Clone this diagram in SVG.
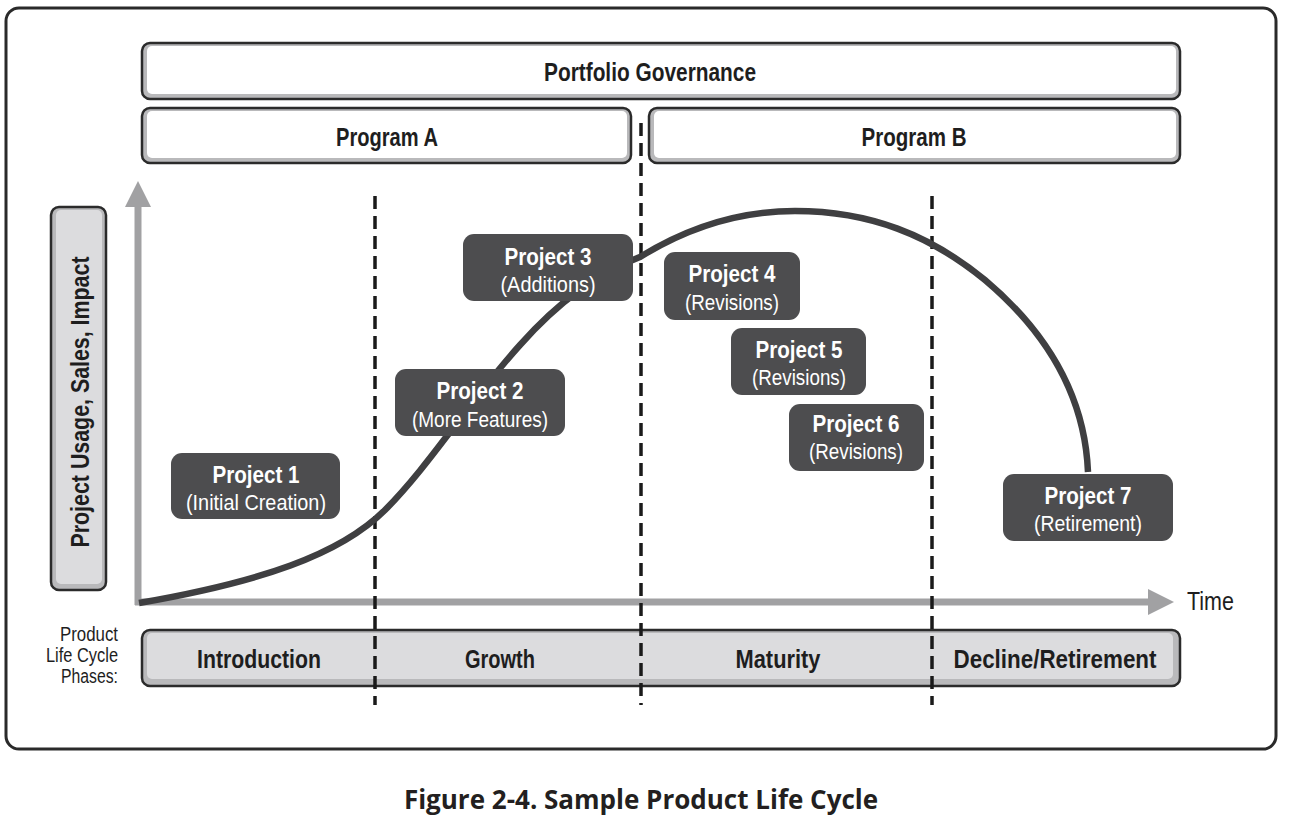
<svg xmlns="http://www.w3.org/2000/svg" width="1289" height="817" viewBox="0 0 1289 817">
<defs>
<style>
.hdr{font-family:"Liberation Sans",Arial,sans-serif;font-weight:bold;font-size:25px;fill:#1e1e1e;text-anchor:middle;dominant-baseline:central}
.pt{font-family:"Liberation Sans",Arial,sans-serif;font-weight:bold;font-size:24px;fill:#ffffff;text-anchor:middle;dominant-baseline:central}
.ps{font-family:"Liberation Sans",Arial,sans-serif;font-size:22px;fill:#ffffff;text-anchor:middle;dominant-baseline:central}
.lbl{font-family:"Liberation Sans",Arial,sans-serif;font-size:20px;fill:#1e1e1e;dominant-baseline:central}
.outer{fill:#b9b9bb;stroke:#2b2b2b;stroke-width:2.5}
.innerW{fill:#ffffff}
.innerG{fill:#dcdcde}
.proj{fill:#4d4d4f}
.dash{stroke:#1a1a1a;stroke-width:3.5;stroke-dasharray:13,7;fill:none}
.axis{stroke:#a1a1a3;stroke-width:7;fill:none}
</style>
</defs>
<rect x="0" y="0" width="1289" height="817" fill="#ffffff"/>
<rect id="frame" x="6" y="8" width="1270" height="741" rx="13" fill="#ffffff" stroke="#2a2a2a" stroke-width="3"/>

<g id="portfolio">
<rect class="outer" x="142" y="43" width="1038" height="56" rx="8"/>
<rect class="innerW" x="147" y="46" width="1029" height="48" rx="5"/>
<text class="hdr" x="650" y="72" textLength="212" lengthAdjust="spacingAndGlyphs">Portfolio Governance</text>
</g>
<g id="programA">
<rect class="outer" x="142" y="108" width="489" height="55" rx="8"/>
<rect class="innerW" x="147" y="111" width="480" height="47" rx="5"/>
<text class="hdr" x="387" y="137" textLength="102" lengthAdjust="spacingAndGlyphs">Program A</text>
</g>
<g id="programB">
<rect class="outer" x="649" y="108" width="531" height="55" rx="8"/>
<rect class="innerW" x="654" y="111" width="522" height="47" rx="5"/>
<text class="hdr" x="914" y="137" textLength="105" lengthAdjust="spacingAndGlyphs">Program B</text>
</g>

<g id="yLabel">
<rect class="outer" x="51" y="207" width="55" height="383" rx="8"/>
<rect class="innerG" x="56" y="210" width="46" height="374" rx="5"/>
<text class="hdr" x="0" y="0" transform="translate(80,402) rotate(-90)" textLength="291" lengthAdjust="spacingAndGlyphs">Project Usage, Sales, Impact</text>
</g>

<g id="phases">
<rect class="outer" x="142" y="630" width="1038" height="56" rx="8"/>
<rect class="innerG" x="147" y="633" width="1026" height="46" rx="5"/>
<text class="hdr" x="259" y="659" textLength="124" lengthAdjust="spacingAndGlyphs">Introduction</text>
<text class="hdr" x="500" y="659" textLength="70" lengthAdjust="spacingAndGlyphs">Growth</text>
<text class="hdr" x="778" y="659" textLength="85" lengthAdjust="spacingAndGlyphs">Maturity</text>
<text class="hdr" x="1055" y="659" textLength="203" lengthAdjust="spacingAndGlyphs">Decline/Retirement</text>
</g>
<g id="phaseLabel">
<text class="lbl" x="118" y="634" text-anchor="end" textLength="58" lengthAdjust="spacingAndGlyphs">Product</text>
<text class="lbl" x="118" y="655" text-anchor="end" textLength="72" lengthAdjust="spacingAndGlyphs">Life Cycle</text>
<text class="lbl" x="118" y="676" text-anchor="end" textLength="57" lengthAdjust="spacingAndGlyphs">Phases:</text>
</g>

<g id="axes">
<line class="axis" x1="138" y1="605" x2="138" y2="204"/>
<polygon points="138,181 125,207 151,207" fill="#a1a1a3"/>
<line class="axis" x1="135" y1="602" x2="1150" y2="602"/>
<polygon points="1174,602 1148,589 1148,615" fill="#a1a1a3"/>
<text class="lbl" x="1187" y="601" style="font-size:25px" textLength="47" lengthAdjust="spacingAndGlyphs">Time</text>
</g>

<g id="dividers">
<line class="dash" x1="375" y1="196" x2="375" y2="705"/>
<line class="dash" x1="641" y1="123" x2="641" y2="705"/>
<line class="dash" x1="932" y1="196" x2="932" y2="705"/>
</g>

<g id="connectors">
<path d="M139,603 C260,582 340,555 385,510 C430,465 470,400 520,345 C560,300 600,272 640,257 C690,226 740,211 795,211 C870,211 930,235 985,280 C1050,335 1085,400 1088,472" fill="none" stroke="#3f3f41" stroke-width="6.5"/>
</g>

<g id="project1">
<rect class="proj" x="171" y="453" width="169" height="66" rx="11"/>
<text class="pt" x="256" y="474" textLength="87" lengthAdjust="spacingAndGlyphs">Project 1</text>
<text class="ps" x="256" y="502" textLength="140" lengthAdjust="spacingAndGlyphs">(Initial Creation)</text>
</g>
<g id="project2">
<rect class="proj" x="395" y="369" width="170" height="67" rx="11"/>
<text class="pt" x="480" y="390" textLength="87" lengthAdjust="spacingAndGlyphs">Project 2</text>
<text class="ps" x="480" y="419" textLength="136" lengthAdjust="spacingAndGlyphs">(More Features)</text>
</g>
<g id="project3">
<rect class="proj" x="463" y="234" width="170" height="67" rx="11"/>
<text class="pt" x="548" y="256" textLength="87" lengthAdjust="spacingAndGlyphs">Project 3</text>
<text class="ps" x="548" y="284" textLength="95" lengthAdjust="spacingAndGlyphs">(Additions)</text>
</g>
<g id="project4">
<rect class="proj" x="664" y="252" width="136" height="68" rx="11"/>
<text class="pt" x="732" y="273" textLength="87" lengthAdjust="spacingAndGlyphs">Project 4</text>
<text class="ps" x="732" y="302" textLength="94" lengthAdjust="spacingAndGlyphs">(Revisions)</text>
</g>
<g id="project5">
<rect class="proj" x="731" y="328" width="135" height="67" rx="11"/>
<text class="pt" x="799" y="349" textLength="87" lengthAdjust="spacingAndGlyphs">Project 5</text>
<text class="ps" x="799" y="377" textLength="94" lengthAdjust="spacingAndGlyphs">(Revisions)</text>
</g>
<g id="project6">
<rect class="proj" x="789" y="404" width="135" height="67" rx="11"/>
<text class="pt" x="856" y="423" textLength="87" lengthAdjust="spacingAndGlyphs">Project 6</text>
<text class="ps" x="856" y="451" textLength="94" lengthAdjust="spacingAndGlyphs">(Revisions)</text>
</g>
<g id="project7">
<rect class="proj" x="1003" y="474" width="170" height="67" rx="11"/>
<text class="pt" x="1088" y="495" textLength="87" lengthAdjust="spacingAndGlyphs">Project 7</text>
<text class="ps" x="1088" y="523" textLength="108" lengthAdjust="spacingAndGlyphs">(Retirement)</text>
</g>

<text id="caption" x="641" y="799" text-anchor="middle" dominant-baseline="central" style="font-family:'Open Sans','Liberation Sans',sans-serif;font-weight:bold;font-size:26px;fill:#231f20">Figure 2-4. Sample Product Life Cycle</text>
</svg>
